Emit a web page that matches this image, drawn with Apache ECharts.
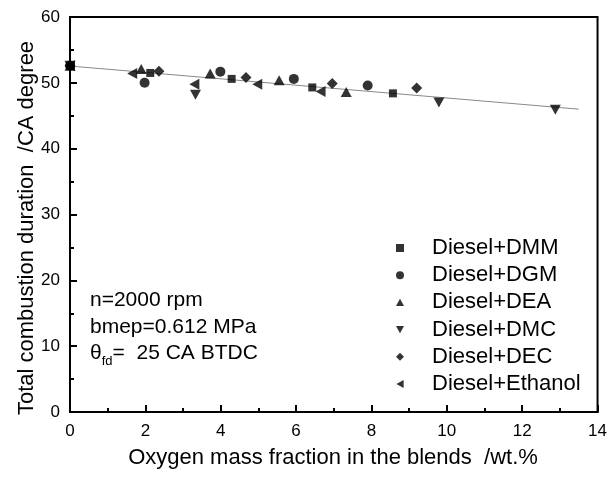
<!DOCTYPE html>
<html><head><meta charset="utf-8">
<script src="https://cdn.jsdelivr.net/npm/echarts@6/dist/echarts.min.js"></script>
<style>html,body{margin:0;padding:0;background:#fff}#c{width:610px;height:477px}</style>
</head><body><div id="c"></div>
<script>
const seriesNames = ['Diesel+DMM','Diesel+DGM','Diesel+DEA','Diesel+DMC','Diesel+DEC','Diesel+Ethanol'];
const dmmX = [0, 2.13, 4.29, 6.43, 8.57];
const dmmY = [52.6, 51.5, 50.6, 49.3, 48.4];
const dgmX = [0, 1.98, 3.99, 5.94, 7.90];
const dgmY = [52.6, 50.0, 51.7, 50.6, 49.6];
const deaX = [0, 1.89, 3.72, 5.55, 7.33];
const deaY = [52.6, 52.1, 51.4, 50.4, 48.6];
const dmcX = [0, 3.33, 9.79, 12.88];
const dmcY = [52.6, 48.2, 47.0, 45.9];
const decX = [0, 2.36, 4.67, 6.96, 9.20];
const decY = [52.6, 51.75, 50.8, 49.9, 49.2];
const ethX = [0, 1.65, 3.30, 4.97, 6.65];
const ethY = [52.6, 51.4, 49.8, 49.8, 48.7];
const trendX = [0, 13.5];
const trendY = [52.55, 46.0];
const xTitle = 'Oxygen mass fraction in the blends  /wt.%';
const yTitle = 'Total combustion duration  /CA degree';
const notes = ['n=2000 rpm', 'bmep=0.612 MPa'];

const FONT = '"Liberation Sans", Arial, sans-serif';
const zip = (xs, ys) => xs.map((x, i) => [x, ys[i]]);
const xs = [dmmX, dgmX, deaX, dmcX, decX, ethX];
const ys = [dmmY, dgmY, deaY, dmcY, decY, ethY];
const TRI_UP = 'path://M5,0L10,9L0,9Z';
const TRI_DOWN = 'path://M0,0L10,0L5,9Z';
const TRI_LEFT = 'path://M9,0L9,10L0,5Z';
const DIAMOND = 'path://M5,0L10,5L5,10L0,5Z';
const symbols = ['rect', 'circle', TRI_UP, TRI_DOWN, DIAMOND, TRI_LEFT];
const sizes = [[8, 8], [10, 10], [11, 10], [11, 10], [11, 11], [10, 11]];

const chart = echarts.init(document.getElementById('c'), null, {renderer: 'canvas'});
const scatter = seriesNames.map((n, i) => ({
  name: n, type: 'scatter', data: zip(xs[i], ys[i]),
  symbol: symbols[i], symbolSize: sizes[i],
  itemStyle: {color: '#000'}, z: 3
}));
chart.setOption({
  animation: false,
  grid: {left: 70, right: 10, top: 17, bottom: 65, show: true, borderColor: '#000', borderWidth: 2},
  xAxis: {
    type: 'value', min: 0, max: 14, interval: 2,
    axisLine: {show: true, onZero: false, lineStyle: {color: '#000', width: 2}},
    axisTick: {inside: true, length: 7, lineStyle: {color: '#000', width: 2}},
    minorTick: {show: true, splitNumber: 2, length: 4, lineStyle: {color: '#000', width: 2}},
    splitLine: {show: false},
    axisLabel: {color: '#000', fontSize: 17, fontFamily: FONT, margin: 11}
  },
  yAxis: {
    type: 'value', min: 0, max: 60, interval: 10,
    axisLine: {show: true, onZero: false, lineStyle: {color: '#000', width: 2}},
    axisTick: {inside: true, length: 7, lineStyle: {color: '#000', width: 2}},
    minorTick: {show: true, splitNumber: 2, length: 4, lineStyle: {color: '#000', width: 2}},
    splitLine: {show: false},
    axisLabel: {color: '#000', fontSize: 17, fontFamily: FONT, margin: 10}
  },
  legend: {
    data: seriesNames.map((n, i) => ({name: n, icon: symbols[i]})),
    orient: 'vertical', left: 391, top: 232,
    itemWidth: 8, itemHeight: 8, itemGap: 5.2,
    textStyle: {color: '#000', fontSize: 22, fontFamily: FONT, lineHeight: 21, padding: [0, 0, 0, 23]}
  },
  graphic: [
    {type: 'text', x: 333, y: 458, style: {text: xTitle, fill: '#000', font: '22px ' + FONT, align: 'center', verticalAlign: 'middle'}},
    {type: 'text', x: 16, y: 228, rotation: Math.PI / 2, style: {text: yTitle, fill: '#000', font: '22px ' + FONT, align: 'center', verticalAlign: 'top'}},
    {type: 'text', x: 90, y: 300, style: {text: notes[0], fill: '#000', font: '21px ' + FONT, verticalAlign: 'middle'}},
    {type: 'text', x: 90, y: 327, style: {text: notes[1], fill: '#000', font: '21px ' + FONT, verticalAlign: 'middle'}},
    {type: 'text', x: 90, y: 355, style: {
      text: '{a|θ}{s|fd}{a|=  25 CA BTDC}', verticalAlign: 'middle',
      rich: {a: {fontSize: 21, fontFamily: FONT, fill: '#000', lineHeight: 25, verticalAlign: 'top'},
             s: {fontSize: 13, fontFamily: FONT, fill: '#000', lineHeight: 25, verticalAlign: 'bottom'}}
    }}
  ],
  series: [{
    type: 'line', data: zip(trendX, trendY), symbol: 'none', silent: true,
    lineStyle: {color: '#888', width: 1}, z: 1
  }].concat(scatter)
});
</script></body></html>
